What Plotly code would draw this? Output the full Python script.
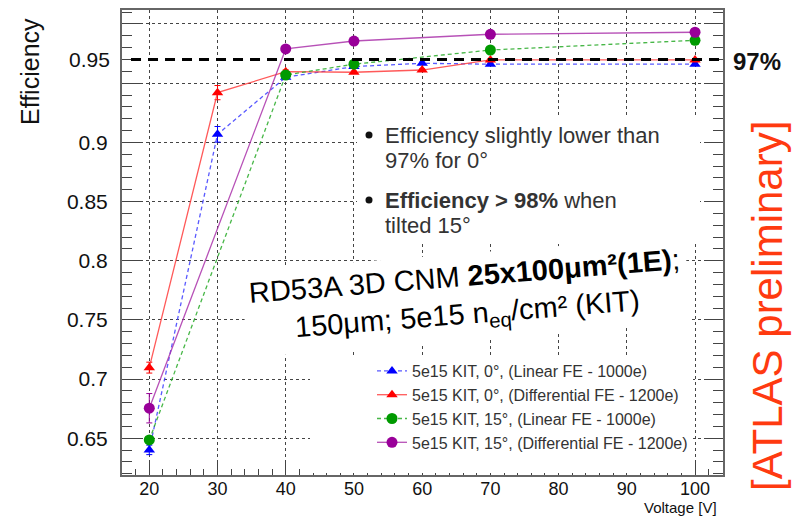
import plotly.graph_objects as go

# ---------------- data ----------------
VOLT_0DEG = [20, 30, 40, 50, 60, 70, 100]
VOLT_15DEG = [20, 40, 50, 70, 100]

EFF_LIN_0 = [0.6402, 0.9068, 0.9550, 0.9640, 0.9668, 0.9660, 0.9660]
ERR_LIN_0 = [0.0040, 0.0066, 0.0012, 0.0010, 0.0010, 0.0010, 0.0010]
EFF_DIFF_0 = [0.7097, 0.9420, 0.9597, 0.9592, 0.9611, 0.9696, 0.9696]
ERR_DIFF_0 = [0.0046, 0.0060, 0.0015, 0.0010, 0.0010, 0.0010, 0.0010]
EFF_LIN_15 = [0.6486, 0.9569, 0.9660, 0.9780, 0.9862]
ERR_LIN_15 = [0.0025, 0.0012, 0.0010, 0.0010, 0.0010]
EFF_DIFF_15 = [0.6754, 0.9789, 0.9856, 0.9913, 0.9930]
ERR_DIFF_15 = [0.0124, 0.0012, 0.0010, 0.0010, 0.0010]

SERIES_NAMES = [
    "5e15 KIT, 0°, (Linear FE - 1000e)",
    "5e15 KIT, 0°, (Differential FE - 1200e)",
    "5e15 KIT, 15°, (Linear FE - 1000e)",
    "5e15 KIT, 15°, (Differential FE - 1200e)",
]

THRESHOLD = 0.97
Y_TICK_VALS = [0.65, 0.70, 0.75, 0.80, 0.85, 0.90, 0.95, 1.00]
Y_TICK_TEXT = ["0.65", "0.7", "0.75", "0.8", "0.85", "0.9", "", ""]
Y_EXTRA_LABEL = "0.95"          # label printed on the slide at the 97% level
X_TICK_VALS = [20, 30, 40, 50, 60, 70, 80, 90, 100]

BULLET_LINES = [
    "Efficiency slightly lower than",
    "97% for 0°",
    "<b>Efficiency > 98%</b> when",
    "tilted 15°",
]

# ---------------- layout geometry ----------------
W, H = 796, 516
L, R, T, B = 122, 73, 10, 41
PW, PH = W - L - R, H - T - B


def px(x):
    return (x - L) / PW


def py(y):
    return (H - B - y) / PH


FONT = "Liberation Sans, Arial, Helvetica, sans-serif"

fig = go.Figure()

styles = [
    dict(x=VOLT_0DEG, y=EFF_LIN_0, e=ERR_LIN_0, lc="rgba(60,60,255,0.85)", mc="#0000ff",
         dash="4px,3px", sym="triangle-up", size=10),
    dict(x=VOLT_0DEG, y=EFF_DIFF_0, e=ERR_DIFF_0, lc="rgba(255,60,60,0.85)", mc="#ff0000",
         dash="solid", sym="triangle-up", size=10),
    dict(x=VOLT_15DEG, y=EFF_LIN_15, e=ERR_LIN_15, lc="rgba(40,170,40,0.85)", mc="#009a00",
         dash="4px,3px", sym="circle", size=11),
    dict(x=VOLT_15DEG, y=EFF_DIFF_15, e=ERR_DIFF_15, lc="rgba(170,50,170,0.85)", mc="#990099",
         dash="solid", sym="circle", size=11),
]

for name, s in zip(SERIES_NAMES, styles):
    fig.add_trace(go.Scatter(
        x=s["x"], y=s["y"], name=name, mode="lines+markers",
        line=dict(color=s["lc"], width=1.3, dash=s["dash"]),
        marker=dict(color=s["mc"], symbol=s["sym"], size=s["size"], line=dict(width=0)),
        error_y=dict(type="data", array=s["e"], color=s["mc"], thickness=1, width=3),
    ))

shapes = [
    # white text boxes of the slide that hide the grid
    dict(type="rect", xref="paper", yref="paper", x0=px(357), x1=px(700), y0=py(243), y1=py(117),
         fillcolor="white", line=dict(width=0), layer="above"),
    dict(type="rect", xref="paper", yref="paper", x0=px(310), x1=px(693), y0=py(473), y1=py(358),
         fillcolor="white", line=dict(width=0), layer="above"),
    # bullet dots
    dict(type="circle", xref="paper", yref="paper", x0=px(365.5), x1=px(372.5),
         y0=py(138.5), y1=py(131.5), fillcolor="#111", line=dict(width=0), layer="above"),
    dict(type="circle", xref="paper", yref="paper", x0=px(365.5), x1=px(372.5),
         y0=py(203.5), y1=py(196.5), fillcolor="#111", line=dict(width=0), layer="above"),
    # 97% reference line
    dict(type="line", xref="paper", yref="y", x0=0.015, x1=1.0, y0=THRESHOLD, y1=THRESHOLD,
         line=dict(color="black", width=3, dash="10px,7px"), layer="above"),
]

annotations = [
    dict(text="Efficiency", xref="paper", yref="paper", x=px(30), y=py(72), textangle=-90,
         xanchor="center", yanchor="middle",
         showarrow=False, font=dict(family=FONT, size=25, color="#111")),
    dict(text=Y_EXTRA_LABEL, xref="paper", yref="y", x=px(112), y=THRESHOLD, xanchor="right",
         yanchor="middle", showarrow=False, font=dict(family=FONT, size=21, color="#111")),
    dict(text="Voltage [V]", xref="paper", yref="paper", x=px(718), y=py(517), xanchor="right",
         yanchor="bottom", showarrow=False, borderpad=0,
         font=dict(family=FONT, size=15, color="#111")),
    dict(text="<b>97%</b>", xref="paper", yref="paper", x=px(731), y=py(62), xanchor="left",
         yanchor="middle", showarrow=False, font=dict(family=FONT, size=24, color="#111")),
    dict(text="[ATLAS preliminary]", xref="paper", yref="paper", x=px(768), y=py(306),
         xanchor="center", yanchor="middle",
         textangle=-90, showarrow=False, font=dict(family=FONT, size=42, color="#ff3a10")),
    dict(text="RD53A 3D CNM <b>25x100μm²(1E)</b>;<br>150μm; 5e15 n<sub>eq</sub>/cm² (KIT)",
         xref="paper", yref="paper", x=px(466), y=py(297), textangle=-4.5,
         xanchor="center", yanchor="middle",
         showarrow=False, align="center", bgcolor="white", borderpad=6,
         font=dict(family=FONT, size=29, color="#000")),
]

for txt, yc in zip(BULLET_LINES, [135, 160.7, 200, 226]):
    annotations.append(dict(
        text=txt, xref="paper", yref="paper", x=px(383), y=py(yc), xanchor="left",
        yanchor="middle", align="left", showarrow=False,
        font=dict(family=FONT, size=22, color="#333")))

fig.update_layout(
    width=W, height=H,
    margin=dict(l=L, r=R, t=T, b=B, autoexpand=False),
    paper_bgcolor="white", plot_bgcolor="white",
    font=dict(family=FONT, color="#111"),
    shapes=shapes, annotations=annotations,
    legend=dict(x=px(372), y=py(354), xanchor="left", yanchor="top",
                bgcolor="rgba(0,0,0,0)", borderwidth=0,
                font=dict(family=FONT, size=16, color="#333"),
                tracegroupgap=0, itemwidth=30),
    showlegend=True,
)

fig.update_xaxes(
    range=[16, 104.1], tickvals=X_TICK_VALS, ticks="inside", ticklen=12, tickwidth=1,
    tickcolor="#444", showline=True, linecolor="#666", linewidth=2, mirror=True,
    showgrid=True, gridcolor="#444", gridwidth=1, griddash="dot", zeroline=False,
    ticklabelstandoff=-4,
    tickfont=dict(family=FONT, size=18, color="#111"),
    minor=dict(dtick=2, tick0=0, ticks="inside", ticklen=6, tickcolor="#444", showgrid=False),
)
fig.update_yaxes(
    range=[0.619, 1.0118], tickvals=Y_TICK_VALS, ticktext=Y_TICK_TEXT, ticks="inside",
    ticklen=18, tickwidth=1, tickcolor="#444", showline=True, linecolor="#666", linewidth=2,
    mirror="ticks", showgrid=True, gridcolor="#444", gridwidth=1, griddash="dot",
    zeroline=False, ticklabelstandoff=8,
    tickfont=dict(family=FONT, size=21, color="#111"),
    minor=dict(dtick=0.01, tick0=0, ticks="inside", ticklen=10, tickcolor="#444", showgrid=False),
)

fig.write_html(
    "out.html",
    config={"displayModeBar": False},
    post_script="document.body.style.margin='0';document.body.style.overflow='hidden';",
)
